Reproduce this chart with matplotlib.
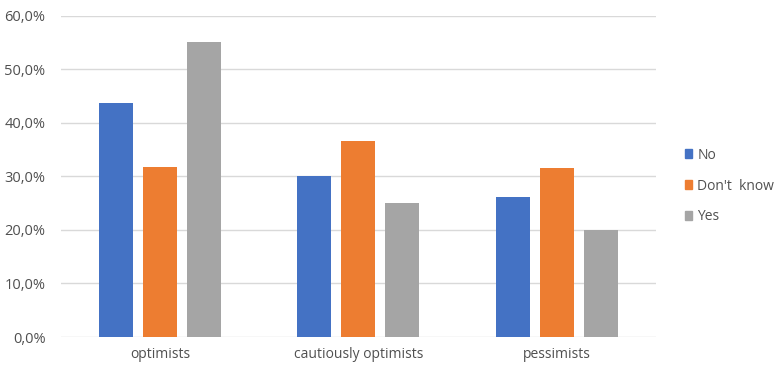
import numpy as np
import matplotlib.pyplot as plt
from matplotlib.patches import Patch
from matplotlib.ticker import FuncFormatter

categories = ["optimists", "cautiously optimists", "pessimists"]
series = ["No", "Don't  know", "Yes"]
no_vals = [43.6, 30.0, 26.2]
dont_know_vals = [31.7, 36.6, 31.6]
yes_vals = [55.0, 25.0, 20.0]
colors = ["#4472C4", "#ED7D31", "#A5A5A5"]

plt.rcParams['font.family'] = ['Open Sans', 'DejaVu Sans']
text_col = "#505050"

fig = plt.figure(figsize=(7.8, 3.72), dpi=100)
ax = fig.add_axes([0.078, 0.094, 0.763, 0.864])

x = np.arange(len(categories))
width = 0.171
step = 0.222
for i, (vals, col) in enumerate(zip([no_vals, dont_know_vals, yes_vals], colors)):
    ax.bar(x + (i - 1) * step, vals, width, color=col, zorder=3)

ax.set_xlim(-0.5, 2.5)
ax.set_ylim(0, 60)
ax.set_yticks(np.arange(0, 61, 10))
ax.yaxis.set_major_formatter(FuncFormatter(lambda v, p: f"{v:.1f}%".replace(".", ",")))
ax.set_xticks(x)
ax.set_xticklabels(categories)
ax.grid(axis="y", color="#D9D9D9", linewidth=1, zorder=0)
for s in ax.spines.values():
    s.set_visible(False)
ax.tick_params(axis="y", length=0, pad=11, labelsize=10.5, labelcolor=text_col)
ax.tick_params(axis="x", length=0, pad=7, labelsize=10, labelcolor=text_col)

handles = [Patch(color=c) for c in colors]
fig.legend(handles, series, loc="center left", bbox_to_anchor=(0.862, 0.50),
           frameon=False, fontsize=10, labelcolor=text_col,
           handlelength=0.55, handleheight=0.55, handletextpad=0.35, labelspacing=1.15)

fig.savefig("out.png", dpi=100)
